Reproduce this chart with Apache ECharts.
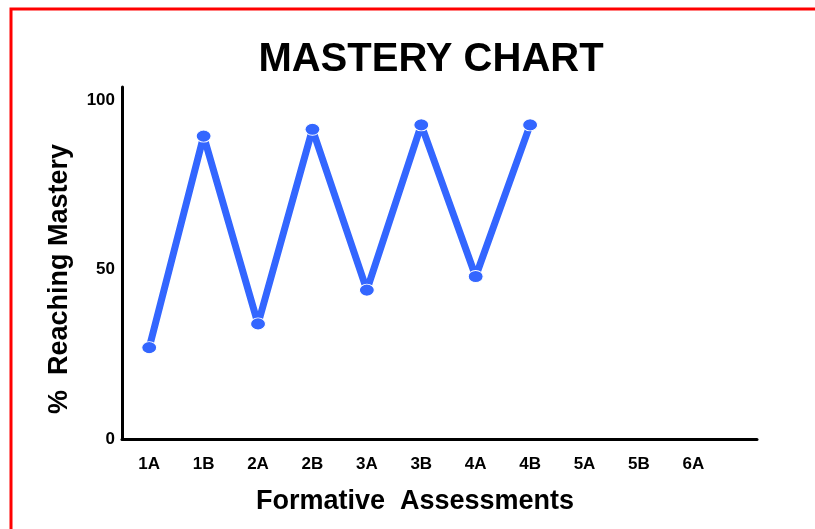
<!DOCTYPE html>
<html lang="en">
  <head>
    <meta charset="UTF-8" />
    <title>Mastery Chart</title>
    <script src="https://cdn.jsdelivr.net/npm/echarts@6.0.0/dist/echarts.min.js"></script>
    <style>
      body { margin: 0; background: #fff; }
    </style>
  </head>
  <body>
    <div id="main" style="width: 815px; height: 529px"></div>

    <script type="text/javascript">
      // assessment labels along the bottom
      const categories = ["1A", "1B", "2A", "2B", "3A", "3B", "4A", "4B", "5A", "5B", "6A"];
      // % reaching mastery, only the first 8 assessments have results
      const mastery = [27, 89.5, 34, 91.5, 44, 92.8, 48, 92.8];
      const yTicks = [0, 50, 100];

      const font = "Liberation Sans, Arial, sans-serif";
      let myChart = echarts.init(document.getElementById("main"));

      let options = {
        backgroundColor: "#ffffff",
        animation: false,
        grid: { left: 122, right: 58, top: 87, bottom: 90 },
        xAxis: {
          type: "value",
          min: 0,
          max: 11.67,
          interval: 0.5,
          axisLine: { show: true, lineStyle: { color: "#000", width: 3 } },
          axisTick: { show: false },
          splitLine: { show: false },
          axisLabel: {
            margin: 17,
            fontFamily: font,
            fontWeight: "bold",
            fontSize: 17,
            color: "#000",
            formatter: (v) => {
              const i = Math.round(v - 0.5);
              if (Math.abs(v - (i + 0.5)) < 1e-6 && i >= 0 && i < categories.length) return categories[i];
              return "";
            },
          },
        },
        yAxis: {
          type: "value",
          min: 0,
          max: 104,
          interval: 50,
          axisLine: { show: true, lineStyle: { color: "#000", width: 3 } },
          axisTick: { show: false },
          splitLine: { show: false },
          axisLabel: {
            margin: 7,
            fontFamily: font,
            fontWeight: "bold",
            fontSize: 17,
            color: "#000",
            formatter: (v) => (yTicks.includes(v) ? String(v) : ""),
          },
        },
        series: [
          {
            type: "line",
            data: mastery.map((v, i) => [i + 0.5, v]),
            symbol: "circle",
            symbolSize: [15, 12],
            lineStyle: { color: "#3366ff", width: 7 },
            itemStyle: { color: "#3366ff", borderColor: "#ffffff", borderWidth: 1 },
          },
        ],
        graphic: [
          {
            type: "rect",
            shape: { x: 11, y: 9, width: 900, height: 600 },
            style: { fill: "none", stroke: "#ff0000", lineWidth: 3 },
          },
          {
            type: "text",
            x: 431,
            y: 60,
            style: {
              text: "MASTERY CHART",
              font: "bold 40px " + font,
              fill: "#000",
              align: "center",
              verticalAlign: "middle",
            },
          },
          {
            type: "text",
            x: 415,
            y: 502,
            style: {
              text: "Formative  Assessments",
              font: "bold 27px " + font,
              fill: "#000",
              align: "center",
              verticalAlign: "middle",
            },
          },
          {
            type: "text",
            x: 60,
            y: 279,
            rotation: Math.PI / 2,
            style: {
              text: "%  Reaching Mastery",
              font: "bold 27px " + font,
              fill: "#000",
              align: "center",
              verticalAlign: "middle",
            },
          },
        ],
      };

      myChart.setOption(options);
    </script>
  </body>
</html>
